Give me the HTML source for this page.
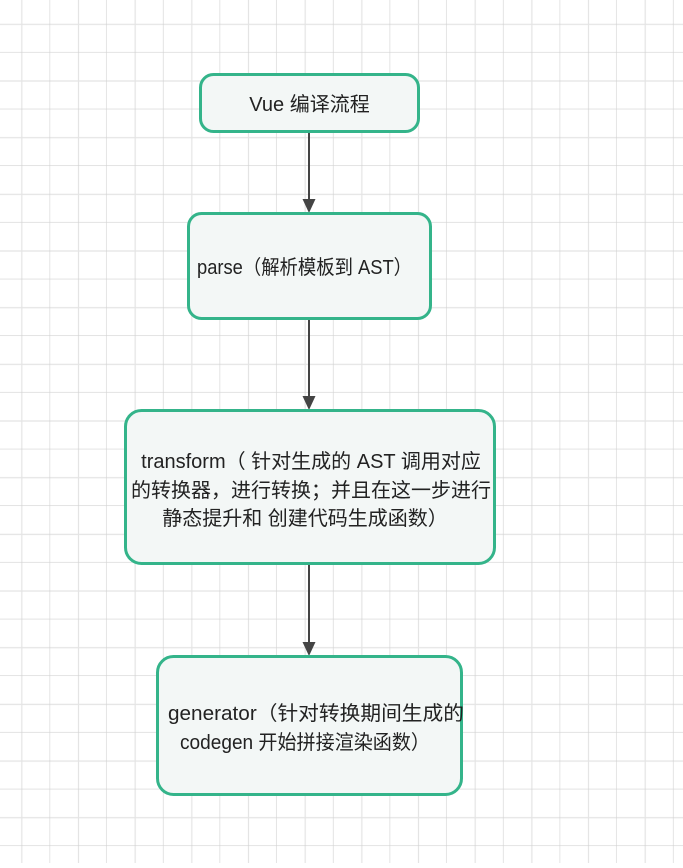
<!DOCTYPE html>
<html><head><meta charset="utf-8"><style>
html,body{margin:0;padding:0;}
body{width:683px;height:863px;overflow:hidden;background:#fff;font-family:"Liberation Sans","Noto Sans CJK SC",sans-serif;}
</style></head><body>
<svg width="683" height="863" xmlns="http://www.w3.org/2000/svg">
<defs>
<pattern id="g" x="-6.5" y="-4" width="56.67" height="56.67" patternUnits="userSpaceOnUse">
<path d="M28.33 0V56.67M0 28.33H56.67" stroke="#e4e4e4" stroke-width="1.2" fill="none"/>
<path d="M56.67 0V56.67M0 56.67H56.67" stroke="#d2d2d2" stroke-width="1.2" fill="none"/>
</pattern>
</defs>
<rect width="683" height="863" fill="url(#g)"/>
<g stroke="#444" stroke-width="2">
<line x1="309" y1="131" x2="309" y2="202"/>
<line x1="309" y1="318" x2="309" y2="399"/>
<line x1="309" y1="563" x2="309" y2="645"/>
</g>
<g fill="#444">
<path d="M302.5 199H315.5L309 213Z"/>
<path d="M302.5 396H315.5L309 410Z"/>
<path d="M302.5 642H315.5L309 656Z"/>
</g>
<g fill="#f3f7f6" stroke="#34b48a" stroke-width="3">
<rect x="200.5" y="74.5" width="218" height="57" rx="13"/>
<rect x="188.5" y="213.5" width="242" height="105" rx="13"/>
<rect x="125.5" y="410.5" width="369" height="153" rx="16"/>
<rect x="157.5" y="656.5" width="304" height="138" rx="16"/>
</g>
<g fill="#222" font-size="20" text-anchor="middle" font-family="Liberation Sans, Noto Sans CJK SC, sans-serif">
<text x="309.5" y="111">Vue 编译流程</text>
<text x="304.5" y="274" textLength="215" lengthAdjust="spacingAndGlyphs">parse（解析模板到 AST）</text>
<text x="311" y="468">transform（ 针对生成的 AST 调用对应</text>
<text x="311" y="497">的转换器，进行转换；并且在这一步进行</text>
<text x="305" y="525">静态提升和 创建代码生成函数）</text>
<text x="316" y="720" textLength="296" lengthAdjust="spacingAndGlyphs">generator（针对转换期间生成的</text>
<text x="305" y="749" textLength="250" lengthAdjust="spacingAndGlyphs">codegen 开始拼接渲染函数）</text>
</g>
</svg>
</body></html>
